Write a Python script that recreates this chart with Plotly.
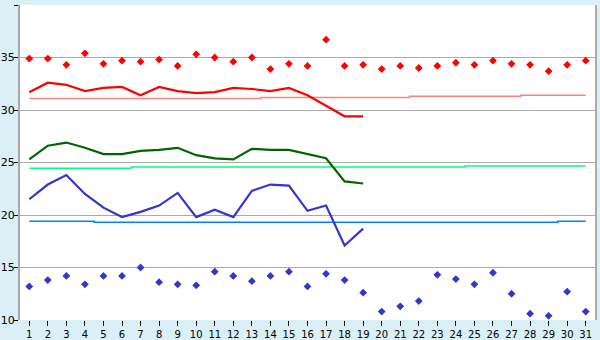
import plotly.graph_objects as go

days = list(range(1, 32))
days19 = list(range(1, 20))

red_pts = [34.9, 34.9, 34.3, 35.4, 34.4, 34.7, 34.6, 34.8, 34.2, 35.3,
           35.0, 34.6, 35.0, 33.9, 34.4, 34.2, 36.7, 34.2, 34.3, 33.9,
           34.2, 34.0, 34.2, 34.5, 34.3, 34.7, 34.4, 34.3, 33.7, 34.3, 34.7]
blue_pts = [13.2, 13.8, 14.2, 13.4, 14.2, 14.2, 15.0, 13.6, 13.4, 13.3,
            14.6, 14.2, 13.7, 14.2, 14.6, 13.2, 14.4, 13.8, 12.6, 10.8,
            11.3, 11.8, 14.3, 13.9, 13.4, 14.5, 12.5, 10.6, 10.4, 12.7, 10.8]

red_line = [31.7, 32.6, 32.4, 31.8, 32.1, 32.2, 31.4, 32.2, 31.8, 31.6,
            31.7, 32.1, 32.0, 31.8, 32.1, 31.4, 30.4, 29.4, 29.4]
green_line = [25.3, 26.6, 26.9, 26.4, 25.8, 25.8, 26.1, 26.2, 26.4, 25.7,
              25.4, 25.3, 26.3, 26.2, 26.2, 25.8, 25.4, 23.2, 23.0]
blue_line = [21.5, 22.9, 23.8, 22.0, 20.7, 19.8, 20.3, 20.9, 22.1, 19.8,
             20.5, 19.8, 22.3, 22.9, 22.8, 20.4, 20.9, 17.1, 18.7]

red_avg = [31.1] * 13 + [31.2] * 8 + [31.3] * 6 + [31.4] * 4
green_avg = [24.45] * 6 + [24.57] * 18 + [24.67] * 7
blue_avg = [19.4] * 4 + [19.3] * 25 + [19.4] * 2

y_ticks = [10, 15, 20, 25, 30, 35, 40]

fig = go.Figure()

for vals, col in [(red_avg, "#FF8080"), (green_avg, "#00FF80"), (blue_avg, "#0080FF")]:
    fig.add_trace(go.Scatter(x=days, y=vals, mode="lines", line=dict(color=col, width=1.5, shape="hvh"),
                             hoverinfo="skip"))

for vals, col in [(red_line, "#FF0000"), (green_line, "#006400"), (blue_line, "#3535CC")]:
    fig.add_trace(go.Scatter(x=days19, y=vals, mode="lines", line=dict(color=col, width=2.2)))

fig.add_trace(go.Scatter(x=days, y=red_pts, mode="markers",
                         marker=dict(symbol="diamond", size=6, color="#FF0000")))
fig.add_trace(go.Scatter(x=days, y=blue_pts, mode="markers",
                         marker=dict(symbol="diamond", size=6, color="#3535CC")))

fig.update_layout(
    width=600, height=340,
    margin=dict(l=20, r=5, t=5, b=20),
    paper_bgcolor="#DAEFF6",
    plot_bgcolor="#FFFFFF",
    showlegend=False,
    font=dict(family="DejaVu Sans", color="#000000"),
)
fig.update_xaxes(
    range=[0.5, 31.5], tickmode="array", tickvals=days, ticktext=[str(d) for d in days],
    showgrid=False, zeroline=False, showline=False,
    ticks="outside", ticklen=5, tickcolor="#000000", tickfont=dict(size=10),
    automargin=False,
)
fig.update_yaxes(
    range=[10, 40], tickmode="array", tickvals=y_ticks,
    showgrid=True, gridcolor="#AAAAAA", gridwidth=1, zeroline=False,
    showline=True, linecolor="#AAAAAA", linewidth=2, mirror=True,
    ticks="outside", ticklen=4, tickcolor="#000000", tickfont=dict(size=11),
    ticklabelstandoff=-3,
    automargin=False,
)

fig.write_html("out.html")
